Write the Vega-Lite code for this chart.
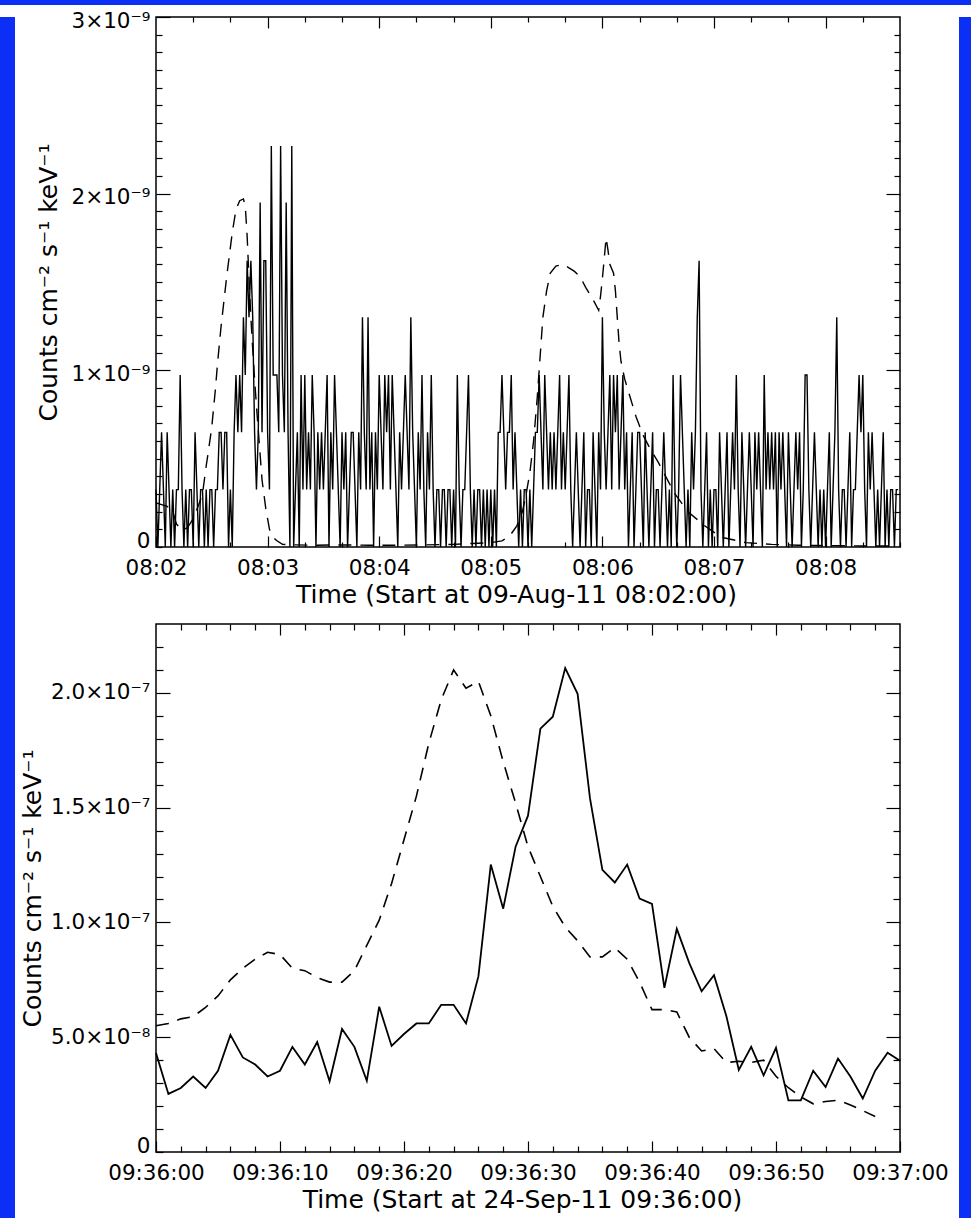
{
  "$schema": "https://vega.github.io/schema/vega-lite/v6.json",
  "background": "white",
  "padding": 0,
  "spacing": 4,
  "config": {
    "font": "DejaVu Sans",
    "view": {"stroke": "black", "strokeWidth": 1.5},
    "axis": {
      "domain": false,
      "grid": false,
      "ticks": true,
      "tickColor": "black",
      "tickWidth": 1.2,
      "labelFont": "DejaVu Sans",
      "labelFontSize": 21.5,
      "labelColor": "black",
      "labelFlush": false,
      "labelOverlap": false,
      "titleFont": "DejaVu Sans",
      "titleFontSize": 25,
      "titleFontWeight": "normal",
      "titleColor": "black"
    },
    "axisLeft": {"titleFontSize": 25}
  },
  "datasets": {
    "aug_counts": [
      {"s":0,"v":3.25e-10},{"s":1,"v":0},{"s":2,"v":3.25e-10},{"s":3,"v":6.49e-10},{"s":4,"v":3.25e-10},{"s":5,"v":0},{"s":6,"v":6.49e-10},{"s":7,"v":3.25e-10},{"s":8,"v":0},{"s":9,"v":3.25e-10},
      {"s":10,"v":0},{"s":11,"v":3.25e-10},{"s":12,"v":3.25e-10},{"s":13,"v":9.74e-10},{"s":14,"v":3.25e-10},{"s":15,"v":0},{"s":16,"v":3.25e-10},{"s":17,"v":0},{"s":18,"v":3.25e-10},{"s":19,"v":3.25e-10},
      {"s":20,"v":0},{"s":21,"v":6.49e-10},{"s":22,"v":3.25e-10},{"s":23,"v":0},{"s":24,"v":3.25e-10},{"s":25,"v":3.25e-10},{"s":26,"v":0},{"s":27,"v":3.25e-10},{"s":28,"v":0},{"s":29,"v":3.25e-10},
      {"s":30,"v":3.25e-10},{"s":31,"v":0},{"s":32,"v":3.25e-10},{"s":33,"v":3.25e-10},{"s":34,"v":6.49e-10},{"s":35,"v":6.49e-10},{"s":36,"v":3.25e-10},{"s":37,"v":6.49e-10},{"s":38,"v":6.49e-10},{"s":39,"v":0},
      {"s":40,"v":3.25e-10},{"s":41,"v":0},{"s":42,"v":6.49e-10},{"s":43,"v":9.74e-10},{"s":44,"v":6.49e-10},{"s":45,"v":9.74e-10},{"s":46,"v":6.49e-10},{"s":47,"v":1.3e-9},{"s":48,"v":9.74e-10},{"s":49,"v":1.62e-9},
      {"s":50,"v":1.3e-9},{"s":51,"v":1.62e-9},{"s":52,"v":1.3e-9},{"s":53,"v":6.49e-10},{"s":54,"v":3.25e-10},{"s":55,"v":6.49e-10},{"s":56,"v":1.95e-9},{"s":57,"v":6.49e-10},{"s":58,"v":1.62e-9},{"s":59,"v":1.62e-9},
      {"s":60,"v":6.49e-10},{"s":61,"v":3.25e-10},{"s":62,"v":2.27e-9},{"s":63,"v":9.74e-10},{"s":64,"v":9.74e-10},{"s":65,"v":9.74e-10},{"s":66,"v":6.49e-10},{"s":67,"v":2.27e-9},{"s":68,"v":9.74e-10},{"s":69,"v":6.49e-10},
      {"s":70,"v":1.95e-9},{"s":71,"v":6.49e-10},{"s":72,"v":0},{"s":73,"v":2.27e-9},{"s":74,"v":0},{"s":75,"v":3.25e-10},{"s":76,"v":6.49e-10},{"s":77,"v":0},{"s":78,"v":9.74e-10},{"s":79,"v":3.25e-10},
      {"s":80,"v":9.74e-10},{"s":81,"v":3.25e-10},{"s":82,"v":6.49e-10},{"s":83,"v":3.25e-10},{"s":84,"v":9.74e-10},{"s":85,"v":6.49e-10},{"s":86,"v":0},{"s":87,"v":6.49e-10},{"s":88,"v":3.25e-10},{"s":89,"v":6.49e-10},
      {"s":90,"v":3.25e-10},{"s":91,"v":6.49e-10},{"s":92,"v":9.74e-10},{"s":93,"v":0},{"s":94,"v":6.49e-10},{"s":95,"v":3.25e-10},{"s":96,"v":9.74e-10},{"s":97,"v":6.49e-10},{"s":98,"v":3.25e-10},{"s":99,"v":0},
      {"s":100,"v":6.49e-10},{"s":101,"v":3.25e-10},{"s":102,"v":6.49e-10},{"s":103,"v":0},{"s":104,"v":3.25e-10},{"s":105,"v":6.49e-10},{"s":106,"v":6.49e-10},{"s":107,"v":3.25e-10},{"s":108,"v":0},{"s":109,"v":6.49e-10},
      {"s":110,"v":3.25e-10},{"s":111,"v":1.3e-9},{"s":112,"v":6.49e-10},{"s":113,"v":3.25e-10},{"s":114,"v":1.3e-9},{"s":115,"v":3.25e-10},{"s":116,"v":6.49e-10},{"s":117,"v":0},{"s":118,"v":6.49e-10},{"s":119,"v":3.25e-10},
      {"s":120,"v":9.74e-10},{"s":121,"v":6.49e-10},{"s":122,"v":3.25e-10},{"s":123,"v":9.74e-10},{"s":124,"v":6.49e-10},{"s":125,"v":9.74e-10},{"s":126,"v":3.25e-10},{"s":127,"v":9.74e-10},{"s":128,"v":6.49e-10},{"s":129,"v":3.25e-10},
      {"s":130,"v":0},{"s":131,"v":6.49e-10},{"s":132,"v":3.25e-10},{"s":133,"v":6.49e-10},{"s":134,"v":9.74e-10},{"s":135,"v":6.49e-10},{"s":136,"v":3.25e-10},{"s":137,"v":1.3e-9},{"s":138,"v":6.49e-10},{"s":139,"v":3.25e-10},
      {"s":140,"v":0},{"s":141,"v":6.49e-10},{"s":142,"v":3.25e-10},{"s":143,"v":9.74e-10},{"s":144,"v":3.25e-10},{"s":145,"v":0},{"s":146,"v":6.49e-10},{"s":147,"v":3.25e-10},{"s":148,"v":9.74e-10},{"s":149,"v":3.25e-10},
      {"s":150,"v":0},{"s":151,"v":3.25e-10},{"s":152,"v":3.25e-10},{"s":153,"v":0},{"s":154,"v":3.25e-10},{"s":155,"v":3.25e-10},{"s":156,"v":0},{"s":157,"v":3.25e-10},{"s":158,"v":3.25e-10},{"s":159,"v":0},
      {"s":160,"v":3.25e-10},{"s":161,"v":0},{"s":162,"v":9.74e-10},{"s":163,"v":3.25e-10},{"s":164,"v":0},{"s":165,"v":3.25e-10},{"s":166,"v":3.25e-10},{"s":167,"v":6.49e-10},{"s":168,"v":9.74e-10},{"s":169,"v":3.25e-10},
      {"s":170,"v":0},{"s":171,"v":3.25e-10},{"s":172,"v":0},{"s":173,"v":3.25e-10},{"s":174,"v":3.25e-10},{"s":175,"v":0},{"s":176,"v":3.25e-10},{"s":177,"v":0},{"s":178,"v":3.25e-10},{"s":179,"v":0},
      {"s":180,"v":3.25e-10},{"s":181,"v":0},{"s":182,"v":3.25e-10},{"s":183,"v":0},{"s":184,"v":6.49e-10},{"s":185,"v":6.49e-10},{"s":186,"v":9.74e-10},{"s":187,"v":6.49e-10},{"s":188,"v":3.25e-10},{"s":189,"v":6.49e-10},
      {"s":190,"v":6.49e-10},{"s":191,"v":9.74e-10},{"s":192,"v":3.25e-10},{"s":193,"v":6.49e-10},{"s":194,"v":3.25e-10},{"s":195,"v":0},{"s":196,"v":3.25e-10},{"s":197,"v":0},{"s":198,"v":3.25e-10},{"s":199,"v":3.25e-10},
      {"s":200,"v":0},{"s":201,"v":3.25e-10},{"s":202,"v":0},{"s":203,"v":3.25e-10},{"s":204,"v":6.49e-10},{"s":205,"v":6.49e-10},{"s":206,"v":9.74e-10},{"s":207,"v":6.49e-10},{"s":208,"v":3.25e-10},{"s":209,"v":9.74e-10},
      {"s":210,"v":6.49e-10},{"s":211,"v":3.25e-10},{"s":212,"v":6.49e-10},{"s":213,"v":3.25e-10},{"s":214,"v":6.49e-10},{"s":215,"v":3.25e-10},{"s":216,"v":6.49e-10},{"s":217,"v":9.74e-10},{"s":218,"v":3.25e-10},{"s":219,"v":6.49e-10},
      {"s":220,"v":3.25e-10},{"s":221,"v":6.49e-10},{"s":222,"v":9.74e-10},{"s":223,"v":3.25e-10},{"s":224,"v":0},{"s":225,"v":3.25e-10},{"s":226,"v":6.49e-10},{"s":227,"v":3.25e-10},{"s":228,"v":0},{"s":229,"v":3.25e-10},
      {"s":230,"v":6.49e-10},{"s":231,"v":0},{"s":232,"v":3.25e-10},{"s":233,"v":3.25e-10},{"s":234,"v":0},{"s":235,"v":6.49e-10},{"s":236,"v":3.25e-10},{"s":237,"v":0},{"s":238,"v":6.49e-10},{"s":239,"v":3.25e-10},
      {"s":240,"v":1.3e-9},{"s":241,"v":6.49e-10},{"s":242,"v":3.25e-10},{"s":243,"v":6.49e-10},{"s":244,"v":9.74e-10},{"s":245,"v":3.25e-10},{"s":246,"v":9.74e-10},{"s":247,"v":6.49e-10},{"s":248,"v":9.74e-10},{"s":249,"v":3.25e-10},
      {"s":250,"v":6.49e-10},{"s":251,"v":9.74e-10},{"s":252,"v":3.25e-10},{"s":253,"v":6.49e-10},{"s":254,"v":0},{"s":255,"v":3.25e-10},{"s":256,"v":6.49e-10},{"s":257,"v":0},{"s":258,"v":3.25e-10},{"s":259,"v":6.49e-10},
      {"s":260,"v":6.49e-10},{"s":261,"v":3.25e-10},{"s":262,"v":0},{"s":263,"v":6.49e-10},{"s":264,"v":3.25e-10},{"s":265,"v":0},{"s":266,"v":3.25e-10},{"s":267,"v":6.49e-10},{"s":268,"v":0},{"s":269,"v":3.25e-10},
      {"s":270,"v":3.25e-10},{"s":271,"v":0},{"s":272,"v":3.25e-10},{"s":273,"v":6.49e-10},{"s":274,"v":3.25e-10},{"s":275,"v":0},{"s":276,"v":3.25e-10},{"s":277,"v":0},{"s":278,"v":9.74e-10},{"s":279,"v":3.25e-10},
      {"s":280,"v":0},{"s":281,"v":3.25e-10},{"s":282,"v":9.74e-10},{"s":283,"v":6.49e-10},{"s":284,"v":3.25e-10},{"s":285,"v":0},{"s":286,"v":3.25e-10},{"s":287,"v":0},{"s":288,"v":6.49e-10},{"s":289,"v":3.25e-10},
      {"s":290,"v":6.49e-10},{"s":291,"v":1.3e-9},{"s":292,"v":1.62e-9},{"s":293,"v":3.25e-10},{"s":294,"v":0},{"s":295,"v":3.25e-10},{"s":296,"v":6.49e-10},{"s":297,"v":0},{"s":298,"v":3.25e-10},{"s":299,"v":0},
      {"s":300,"v":3.25e-10},{"s":301,"v":3.25e-10},{"s":302,"v":0},{"s":303,"v":6.49e-10},{"s":304,"v":3.25e-10},{"s":305,"v":0},{"s":306,"v":3.25e-10},{"s":307,"v":6.49e-10},{"s":308,"v":0},{"s":309,"v":3.25e-10},
      {"s":310,"v":6.49e-10},{"s":311,"v":3.25e-10},{"s":312,"v":9.74e-10},{"s":313,"v":3.25e-10},{"s":314,"v":0},{"s":315,"v":6.49e-10},{"s":316,"v":3.25e-10},{"s":317,"v":0},{"s":318,"v":3.25e-10},{"s":319,"v":6.49e-10},
      {"s":320,"v":3.25e-10},{"s":321,"v":0},{"s":322,"v":6.49e-10},{"s":323,"v":3.25e-10},{"s":324,"v":6.49e-10},{"s":325,"v":3.25e-10},{"s":326,"v":0},{"s":327,"v":9.74e-10},{"s":328,"v":3.25e-10},{"s":329,"v":6.49e-10},
      {"s":330,"v":3.25e-10},{"s":331,"v":6.49e-10},{"s":332,"v":3.25e-10},{"s":333,"v":6.49e-10},{"s":334,"v":0},{"s":335,"v":6.49e-10},{"s":336,"v":3.25e-10},{"s":337,"v":6.49e-10},{"s":338,"v":3.25e-10},{"s":339,"v":0},
      {"s":340,"v":6.49e-10},{"s":341,"v":3.25e-10},{"s":342,"v":0},{"s":343,"v":3.25e-10},{"s":344,"v":6.49e-10},{"s":345,"v":3.25e-10},{"s":346,"v":6.49e-10},{"s":347,"v":0},{"s":348,"v":3.25e-10},{"s":349,"v":9.74e-10},
      {"s":350,"v":9.74e-10},{"s":351,"v":3.25e-10},{"s":352,"v":0},{"s":353,"v":3.25e-10},{"s":354,"v":6.49e-10},{"s":355,"v":3.25e-10},{"s":356,"v":0},{"s":357,"v":3.25e-10},{"s":358,"v":0},{"s":359,"v":3.25e-10},
      {"s":360,"v":0},{"s":361,"v":3.25e-10},{"s":362,"v":6.49e-10},{"s":363,"v":0},{"s":364,"v":3.25e-10},{"s":365,"v":6.49e-10},{"s":366,"v":1.3e-9},{"s":367,"v":3.25e-10},{"s":368,"v":0},{"s":369,"v":3.25e-10},
      {"s":370,"v":3.25e-10},{"s":371,"v":0},{"s":372,"v":3.25e-10},{"s":373,"v":6.49e-10},{"s":374,"v":0},{"s":375,"v":3.25e-10},{"s":376,"v":3.25e-10},{"s":377,"v":6.49e-10},{"s":378,"v":9.74e-10},{"s":379,"v":6.49e-10},
      {"s":380,"v":9.74e-10},{"s":381,"v":3.25e-10},{"s":382,"v":0},{"s":383,"v":6.49e-10},{"s":384,"v":3.25e-10},{"s":385,"v":6.49e-10},{"s":386,"v":3.25e-10},{"s":387,"v":0},{"s":388,"v":3.25e-10},{"s":389,"v":0},
      {"s":390,"v":3.25e-10},{"s":391,"v":6.49e-10},{"s":392,"v":0},{"s":393,"v":3.25e-10},{"s":394,"v":0},{"s":395,"v":3.25e-10},{"s":396,"v":3.25e-10},{"s":397,"v":0},{"s":398,"v":3.25e-10},{"s":399,"v":3.25e-10}
    ],
    "aug_profile": [
      {"s":0,"v":2.5e-10},{"s":3,"v":2.4e-10},{"s":6,"v":2.3e-10},{"s":9,"v":2e-10},{"s":11,"v":1.3e-10},{"s":14,"v":9.5e-11},{"s":17,"v":1.1e-10},{"s":20,"v":1.6e-10},{"s":23,"v":2.4e-10},{"s":25,"v":3e-10},
      {"s":27,"v":4.6e-10},{"s":28,"v":5.3e-10},{"s":30,"v":6.8e-10},{"s":32,"v":9e-10},{"s":33,"v":1.03e-9},{"s":35,"v":1.25e-9},{"s":38,"v":1.53e-9},{"s":41,"v":1.78e-9},{"s":43,"v":1.91e-9},{"s":45,"v":1.96e-9},
      {"s":47,"v":1.97e-9},{"s":48,"v":1.93e-9},{"s":49,"v":1.76e-9},{"s":50,"v":1.52e-9},{"s":51,"v":1.3e-9},{"s":52,"v":1.12e-9},{"s":53,"v":9.5e-10},{"s":54,"v":8e-10},{"s":56,"v":5.2e-10},{"s":57,"v":3.8e-10},
      {"s":59,"v":2.2e-10},{"s":61,"v":1e-10},{"s":63,"v":5.5e-11},{"s":65,"v":3.5e-11},{"s":68,"v":1.5e-11},{"s":75,"v":1.2e-11},{"s":85,"v":1e-11},{"s":100,"v":1.2e-11},{"s":115,"v":1e-11},{"s":130,"v":1e-11},
      {"s":145,"v":1.2e-11},{"s":160,"v":1.5e-11},{"s":170,"v":2e-11},{"s":180,"v":2.5e-11},{"s":186,"v":3.5e-11},{"s":190,"v":6e-11},{"s":194,"v":1.2e-10},{"s":197,"v":2e-10},{"s":199,"v":3e-10},{"s":201,"v":4.2e-10},
      {"s":203,"v":6e-10},{"s":205,"v":8.5e-10},{"s":207,"v":1.15e-9},{"s":208,"v":1.3e-9},{"s":210,"v":1.45e-9},{"s":212,"v":1.55e-9},{"s":215,"v":1.59e-9},{"s":219,"v":1.6e-9},{"s":222,"v":1.58e-9},{"s":225,"v":1.56e-9},
      {"s":228,"v":1.53e-9},{"s":231,"v":1.47e-9},{"s":235,"v":1.4e-9},{"s":238,"v":1.34e-9},{"s":239,"v":1.42e-9},{"s":240,"v":1.52e-9},{"s":242,"v":1.75e-9},{"s":243,"v":1.68e-9},{"s":244,"v":1.6e-9},{"s":246,"v":1.55e-9},
      {"s":247,"v":1.45e-9},{"s":248,"v":1.3e-9},{"s":249,"v":1.15e-9},{"s":250,"v":1.05e-9},{"s":252,"v":9.5e-10},{"s":254,"v":8.8e-10},{"s":258,"v":7.4e-10},{"s":262,"v":6.3e-10},{"s":266,"v":5.5e-10},{"s":270,"v":4.8e-10},
      {"s":274,"v":4e-10},{"s":279,"v":3e-10},{"s":286,"v":2e-10},{"s":295,"v":1.2e-10},{"s":304,"v":5.5e-11},{"s":317,"v":2.5e-11},{"s":331,"v":1.5e-11},{"s":345,"v":1e-11},{"s":360,"v":8e-12},{"s":380,"v":6e-12},
      {"s":399,"v":5e-12}
    ],
    "sep_counts": [
      {"s":0,"v":4.31e-8},{"s":1,"v":2.53e-8},{"s":2,"v":2.79e-8},{"s":3,"v":3.29e-8},{"s":4,"v":2.79e-8},{"s":5,"v":3.54e-8},{"s":6,"v":5.1e-8},{"s":7,"v":4.12e-8},{"s":8,"v":3.81e-8},{"s":9,"v":3.29e-8},
      {"s":10,"v":3.54e-8},{"s":11,"v":4.58e-8},{"s":12,"v":3.81e-8},{"s":13,"v":4.79e-8},{"s":14,"v":3.08e-8},{"s":15,"v":5.36e-8},{"s":16,"v":4.58e-8},{"s":17,"v":3.1e-8},{"s":18,"v":6.33e-8},{"s":19,"v":4.62e-8},
      {"s":20,"v":5.14e-8},{"s":21,"v":5.6e-8},{"s":22,"v":5.6e-8},{"s":23,"v":6.41e-8},{"s":24,"v":6.41e-8},{"s":25,"v":5.6e-8},{"s":26,"v":7.65e-8},{"s":27,"v":1.252e-7},{"s":28,"v":1.06e-7},{"s":29,"v":1.33e-7},
      {"s":30,"v":1.465e-7},{"s":31,"v":1.844e-7},{"s":32,"v":1.896e-7},{"s":33,"v":2.108e-7},{"s":34,"v":1.996e-7},{"s":35,"v":1.54e-7},{"s":36,"v":1.229e-7},{"s":37,"v":1.174e-7},{"s":38,"v":1.252e-7},{"s":39,"v":1.104e-7},
      {"s":40,"v":1.081e-7},{"s":41,"v":7.15e-8},{"s":42,"v":9.72e-8},{"s":43,"v":8.24e-8},{"s":44,"v":7e-8},{"s":45,"v":7.7e-8},{"s":46,"v":5.91e-8},{"s":47,"v":3.57e-8},{"s":48,"v":4.58e-8},{"s":49,"v":3.34e-8},
      {"s":50,"v":4.54e-8},{"s":51,"v":2.25e-8},{"s":52,"v":2.25e-8},{"s":53,"v":3.54e-8},{"s":54,"v":2.83e-8},{"s":55,"v":4.07e-8},{"s":56,"v":3.29e-8},{"s":57,"v":2.33e-8},{"s":58,"v":3.54e-8},{"s":59,"v":4.32e-8},
      {"s":60,"v":3.97e-8}
    ],
    "sep_profile": [
      {"s":0,"v":5.5e-8},{"s":1,"v":5.6e-8},{"s":2,"v":5.8e-8},{"s":3,"v":5.9e-8},{"s":4,"v":6.3e-8},{"s":5,"v":6.8e-8},{"s":6,"v":7.5e-8},{"s":7,"v":8e-8},{"s":8,"v":8.4e-8},{"s":9,"v":8.7e-8},
      {"s":10,"v":8.6e-8},{"s":11,"v":8e-8},{"s":12,"v":7.9e-8},{"s":13,"v":7.6e-8},{"s":14,"v":7.4e-8},{"s":15,"v":7.4e-8},{"s":16,"v":7.9e-8},{"s":17,"v":9e-8},{"s":18,"v":1.01e-7},{"s":19,"v":1.17e-7},
      {"s":20,"v":1.36e-7},{"s":21,"v":1.55e-7},{"s":22,"v":1.78e-7},{"s":23,"v":1.97e-7},{"s":24,"v":2.1e-7},{"s":25,"v":2.02e-7},{"s":26,"v":2.05e-7},{"s":27,"v":1.9e-7},{"s":28,"v":1.7e-7},{"s":29,"v":1.52e-7},
      {"s":30,"v":1.33e-7},{"s":31,"v":1.2e-7},{"s":32,"v":1.07e-7},{"s":33,"v":9.8e-8},{"s":34,"v":9.2e-8},{"s":35,"v":8.5e-8},{"s":36,"v":8.5e-8},{"s":37,"v":8.9e-8},{"s":38,"v":8.4e-8},{"s":39,"v":7.4e-8},
      {"s":40,"v":6.2e-8},{"s":41,"v":6.2e-8},{"s":42,"v":6.1e-8},{"s":43,"v":5e-8},{"s":44,"v":4.4e-8},{"s":45,"v":4.5e-8},{"s":46,"v":3.9e-8},{"s":47,"v":3.95e-8},{"s":48,"v":3.9e-8},{"s":49,"v":4e-8},
      {"s":50,"v":3.3e-8},{"s":51,"v":2.8e-8},{"s":52,"v":2.4e-8},{"s":53,"v":2.1e-8},{"s":54,"v":2.2e-8},{"s":55,"v":2.25e-8},{"s":56,"v":2.05e-8},{"s":57,"v":1.8e-8},{"s":58,"v":1.55e-8}
    ]
  },
  "vconcat": [
    {
      "width": 971,
      "height": 5,
      "view": {"fill": "#0b2ff5", "stroke": null},
      "data": {"values": []},
      "mark": "rect",
      "encoding": {}
    },
    {
      "spacing": 4,
      "hconcat": [
        {
          "width": 15,
          "height": 1209,
          "view": {"fill": "#0b2ff5", "stroke": null},
          "data": {"values": []},
          "mark": "rect",
          "encoding": {}
        },
        {
          "spacing": 9,
          "hconcat": [
            {
              "spacing": 13,
              "vconcat": [
                {
                  "width": 744,
                  "height": 530,
                  "resolve": {"axis": {"x": "independent", "y": "independent"}},
                  "layer": [
                    {
                      "data": {"name": "aug_counts"},
                      "mark": {"type": "line", "color": "black", "strokeWidth": 1.4},
                      "encoding": {
                        "x": {
                          "field": "s",
                          "type": "quantitative",
                          "scale": {"domain": [0, 400], "nice": false, "zero": false},
                          "axis": {
                            "orient": "bottom",
                            "title": "Time (Start at 09-Aug-11 08:02:00)",
                            "titleX": 360,
                            "values": [0, 60, 120, 180, 240, 300, 360],
                            "labelExpr": "'08:0' + (2 + datum.value / 60)",
                            "tickSize": -11,
                            "labelPadding": 21,
                            "titlePadding": 4
                          }
                        },
                        "y": {
                          "field": "v",
                          "type": "quantitative",
                          "scale": {"domain": [0, 3e-9], "nice": false},
                          "axis": {
                            "orient": "left",
                            "title": "Counts cm⁻² s⁻¹ keV⁻¹",
                            "values": [1e-9, 2e-9, 3e-9],
                            "labelExpr": "round(datum.value * 1e9) + '×10⁻⁹'",
                            "labelOffset": 4,
                            "tickSize": -14,
                            "labelPadding": 20,
                            "titlePadding": 9
                          }
                        }
                      }
                    },
                    {
                      "data": {"name": "aug_profile"},
                      "mark": {"type": "line", "color": "black", "strokeWidth": 1.4, "strokeDash": [13, 9]},
                      "encoding": {
                        "x": {
                          "field": "s",
                          "type": "quantitative",
                          "axis": {"orient": "top", "title": null, "labels": false, "values": [60, 120, 180, 240, 300, 360], "tickSize": -11}
                        },
                        "y": {
                          "field": "v",
                          "type": "quantitative",
                          "axis": {"orient": "right", "title": null, "labels": false, "values": [1e-9, 2e-9], "tickSize": -14}
                        }
                      }
                    },
                    {
                      "data": {"name": "aug_counts"},
                      "mark": {"type": "line", "opacity": 0},
                      "encoding": {
                        "x": {
                          "field": "s",
                          "type": "quantitative",
                          "axis": {"orient": "bottom", "title": null, "labels": false, "values": [20, 40, 80, 100, 140, 160, 200, 220, 260, 280, 320, 340, 380, 400], "tickSize": -5}
                        },
                        "y": {
                          "field": "v",
                          "type": "quantitative",
                          "axis": {
                            "orient": "left",
                            "title": null,
                            "values": [0, 1e-10, 2e-10, 3e-10, 4e-10, 5e-10, 6e-10, 7e-10, 8e-10, 9e-10, 1.1e-9, 1.2e-9, 1.3e-9, 1.4e-9, 1.5e-9, 1.6e-9, 1.7e-9, 1.8e-9, 1.9e-9, 2.1e-9, 2.2e-9, 2.3e-9, 2.4e-9, 2.5e-9, 2.6e-9, 2.7e-9, 2.8e-9, 2.9e-9],
                            "labelExpr": "datum.value == 0 ? '0' : ''",
                            "labelBaseline": "alphabetic",
                            "tickSize": -6,
                            "labelPadding": 12
                          }
                        }
                      }
                    },
                    {
                      "data": {"name": "aug_profile"},
                      "mark": {"type": "line", "opacity": 0},
                      "encoding": {
                        "x": {
                          "field": "s",
                          "type": "quantitative",
                          "axis": {"orient": "top", "title": null, "labels": false, "values": [20, 40, 80, 100, 140, 160, 200, 220, 260, 280, 320, 340, 380], "tickSize": -5}
                        },
                        "y": {
                          "field": "v",
                          "type": "quantitative",
                          "axis": {
                            "orient": "right",
                            "title": null,
                            "labels": false,
                            "values": [1e-10, 2e-10, 3e-10, 4e-10, 5e-10, 6e-10, 7e-10, 8e-10, 9e-10, 1.1e-9, 1.2e-9, 1.3e-9, 1.4e-9, 1.5e-9, 1.6e-9, 1.7e-9, 1.8e-9, 1.9e-9, 2.1e-9, 2.2e-9, 2.3e-9, 2.4e-9, 2.5e-9, 2.6e-9, 2.7e-9, 2.8e-9, 2.9e-9],
                            "tickSize": -6
                          }
                        }
                      }
                    }
                  ]
                },
                {
                  "width": 744,
                  "height": 528,
                  "resolve": {"axis": {"x": "independent", "y": "independent"}},
                  "layer": [
                    {
                      "data": {"name": "sep_counts"},
                      "mark": {"type": "line", "color": "black", "strokeWidth": 1.8},
                      "encoding": {
                        "x": {
                          "field": "s",
                          "type": "quantitative",
                          "scale": {"domain": [0, 60], "nice": false, "zero": false},
                          "axis": {
                            "orient": "bottom",
                            "title": "Time (Start at 24-Sep-11 09:36:00)",
                            "titleX": 366,
                            "values": [0, 10, 20, 30, 40, 50, 60],
                            "labelExpr": "'09:3' + (6 + floor(datum.value / 60)) + ':' + (datum.value % 60 == 0 ? '00' : datum.value % 60)",
                            "tickSize": -11,
                            "labelPadding": 21,
                            "titlePadding": 4
                          }
                        },
                        "y": {
                          "field": "v",
                          "type": "quantitative",
                          "scale": {"domain": [0, 2.3e-7], "nice": false},
                          "axis": {
                            "orient": "left",
                            "title": "Counts cm⁻² s⁻¹ keV⁻¹",
                            "values": [5e-8, 1e-7, 1.5e-7, 2e-7],
                            "labelExpr": "round(datum.value * 1e8) == 5 ? '5.0×10⁻⁸' : format(datum.value * 1e7, '.1f') + '×10⁻⁷'",
                            "tickSize": -14,
                            "labelPadding": 20,
                            "titlePadding": 5
                          }
                        }
                      }
                    },
                    {
                      "data": {"name": "sep_profile"},
                      "mark": {"type": "line", "color": "black", "strokeWidth": 1.6, "strokeDash": [13, 9]},
                      "encoding": {
                        "x": {
                          "field": "s",
                          "type": "quantitative",
                          "axis": {"orient": "top", "title": null, "labels": false, "values": [10, 20, 30, 40, 50], "tickSize": -11}
                        },
                        "y": {
                          "field": "v",
                          "type": "quantitative",
                          "axis": {"orient": "right", "title": null, "labels": false, "values": [5e-8, 1e-7, 1.5e-7, 2e-7], "tickSize": -14}
                        }
                      }
                    },
                    {
                      "data": {"name": "sep_counts"},
                      "mark": {"type": "line", "opacity": 0},
                      "encoding": {
                        "x": {
                          "field": "s",
                          "type": "quantitative",
                          "axis": {"orient": "bottom", "title": null, "labels": false, "values": [2, 4, 6, 8, 12, 14, 16, 18, 22, 24, 26, 28, 32, 34, 36, 38, 42, 44, 46, 48, 52, 54, 56, 58], "tickSize": -6}
                        },
                        "y": {
                          "field": "v",
                          "type": "quantitative",
                          "axis": {
                            "orient": "left",
                            "title": null,
                            "values": [0, 1e-8, 2e-8, 3e-8, 4e-8, 6e-8, 7e-8, 8e-8, 9e-8, 1.1e-7, 1.2e-7, 1.3e-7, 1.4e-7, 1.6e-7, 1.7e-7, 1.8e-7, 1.9e-7, 2.1e-7, 2.2e-7],
                            "labelExpr": "datum.value == 0 ? '0' : ''",
                            "labelBaseline": "alphabetic",
                            "tickSize": -7,
                            "labelPadding": 13
                          }
                        }
                      }
                    },
                    {
                      "data": {"name": "sep_profile"},
                      "mark": {"type": "line", "opacity": 0},
                      "encoding": {
                        "x": {
                          "field": "s",
                          "type": "quantitative",
                          "axis": {"orient": "top", "title": null, "labels": false, "values": [2, 4, 6, 8, 12, 14, 16, 18, 22, 24, 26, 28, 32, 34, 36, 38, 42, 44, 46, 48, 52, 54, 56, 58], "tickSize": -6}
                        },
                        "y": {
                          "field": "v",
                          "type": "quantitative",
                          "axis": {
                            "orient": "right",
                            "title": null,
                            "labels": false,
                            "values": [1e-8, 2e-8, 3e-8, 4e-8, 6e-8, 7e-8, 8e-8, 9e-8, 1.1e-7, 1.2e-7, 1.3e-7, 1.4e-7, 1.6e-7, 1.7e-7, 1.8e-7, 1.9e-7, 2.1e-7, 2.2e-7],
                            "tickSize": -7
                          }
                        }
                      }
                    }
                  ]
                }
              ]
            },
            {
              "width": 15,
              "height": 1209,
              "view": {"fill": "#0b2ff5", "stroke": null},
              "data": {"values": []},
              "mark": "rect",
              "encoding": {}
            }
          ]
        }
      ]
    }
  ]
}
